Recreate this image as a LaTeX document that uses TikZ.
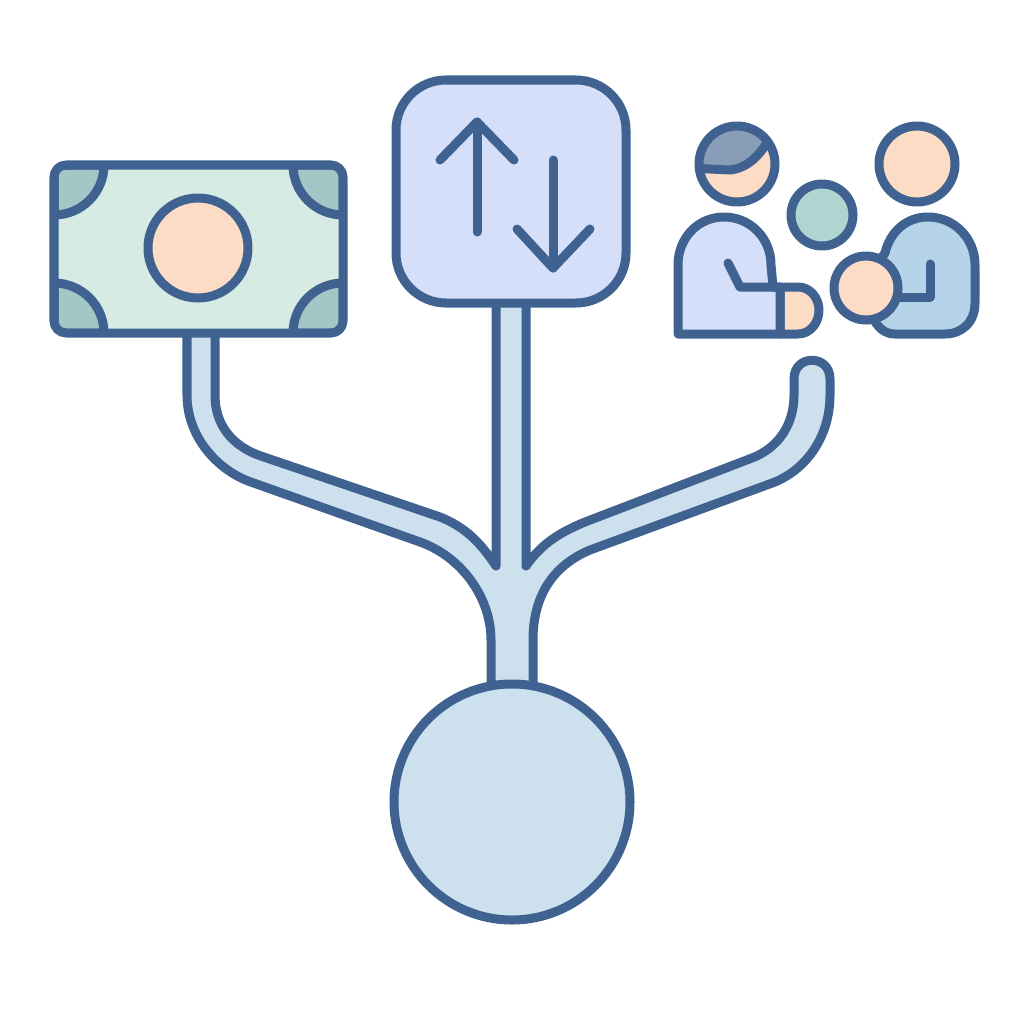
\documentclass[tikz,border=0pt]{standalone}
\definecolor{inkblue}{HTML}{3F6290}
\definecolor{stemblue}{HTML}{CCE0EE}
\definecolor{notegreen}{HTML}{D5EBE4}
\definecolor{cornergreen}{HTML}{A3C7C7}
\definecolor{skinpeach}{HTML}{FDDCC5}
\definecolor{boxlilac}{HTML}{D6DFF9}
\definecolor{hairgray}{HTML}{8A9DB8}
\definecolor{cointeal}{HTML}{B0D5D0}
\definecolor{bodyblue}{HTML}{B5D4E9}
\tikzset{
	outline/.style={draw=inkblue, line width=0.09cm, line join=round, line cap=round},
}

\begin{document}
\begin{tikzpicture}[x=0.01cm, y=-0.01cm]
\useasboundingbox (0,0) rectangle (1024,1024);

% --- branching stem
\draw[outline, fill=stemblue]
	(187,330) -- (187,395)
	.. controls (187,435) and (215,468) .. (248,481)
	-- (420,542)
	.. controls (462,557) and (491,598) .. (491,640)
	-- (491,700) -- (533,700) -- (533,640)
	.. controls (533,597) and (552,566) .. (590,550)
	-- (775,482)
	.. controls (808,468) and (830,435) .. (830,395)
	-- (830,379)
	.. controls (830,354) and (794,354) .. (794,379)
	-- (794,395)
	.. controls (794,425) and (778,448) .. (752,458)
	-- (585,522)
	.. controls (556,534) and (540,546) .. (526,566)
	-- (526,300) -- (496,300) -- (496,566)
	.. controls (480,542) and (465,527) .. (440,517)
	-- (258,455)
	.. controls (232,445) and (215,425) .. (215,395)
	-- (215,330) -- cycle;

% --- big circle
\draw[outline, fill=stemblue] (512,802) circle (118);

% --- bank note
\fill[notegreen, rounded corners=0.12cm] (54,165) rectangle (343,333);
\begin{scope}
	\clip[rounded corners=0.12cm] (54,165) rectangle (343,333);
	% corner pieces
	\foreach \cx/\cy/\sa in {
		54/165/0,
		343/165/90,
		343/333/180,
		54/333/270}
	\draw[outline, fill=cornergreen] (\cx,\cy) -- ++(\sa:50) arc (\sa:\sa+90:50) -- cycle;
\end{scope}
\draw[outline, rounded corners=0.12cm] (54,165) rectangle (343,333);
\draw[outline, fill=skinpeach] (198,248) circle (50);

% --- box with arrows
\draw[outline, fill=boxlilac, rounded corners=0.5cm] (396,80) rectangle (626,303);
\draw[outline] (477,232) -- (477,122);
\draw[outline] (440,160) -- (477,122) -- (514,160);
\draw[outline] (553,160) -- (553,268);
\draw[outline] (517,229) -- (553,268) -- (590,229);

% --- person on the left
\fill[skinpeach] (737,164) circle (38);
\begin{scope}
	\clip (737,164) circle (38);
	% hair above the parting
	\fill[hairgray]
		(690,168) -- (730,170)
		.. controls (748,168) and (760,155) .. (770,138)
		-- (770,120) -- (690,120) -- cycle;
	\draw[outline] (690,168) -- (730,170)
		.. controls (748,168) and (760,155) .. (770,138);
\end{scope}
\draw[outline] (737,164) circle (38);
\draw[outline, fill=skinpeach]
	(780,287) -- (798,287)
	.. controls (810,287) and (819,298) .. (819,310)
	.. controls (819,323) and (810,334) .. (798,334)
	-- (780,334) -- cycle;
\draw[outline, fill=boxlilac]
	(678,334) -- (678,265)
	.. controls (678,238) and (698,217) .. (724,217)
	.. controls (750,217) and (771,238) .. (771,265)
	-- (773,287) -- (780,287) -- (780,334) -- cycle;
\draw[outline] (728,263) -- (740,287) -- (780,287);

% --- person on the right
\draw[outline, fill=skinpeach] (917,164) circle (38);
\draw[outline, fill=bodyblue]
	(885,253)
	.. controls (890,232) and (906,217) .. (928,217)
	.. controls (954,217) and (975,238) .. (975,265)
	-- (975,303)
	.. controls (975,322) and (962,334) .. (945,334)
	-- (895,334)
	.. controls (885,334) and (878,328) .. (873,318) -- (865,280) -- cycle;
\draw[outline] (930,264) -- (930,297) -- (900,297);
\draw[outline, fill=skinpeach] (866,288) circle (32);

% --- coin between them
\draw[outline, fill=cointeal] (822,215) circle (31);
\end{tikzpicture}
\end{document}
